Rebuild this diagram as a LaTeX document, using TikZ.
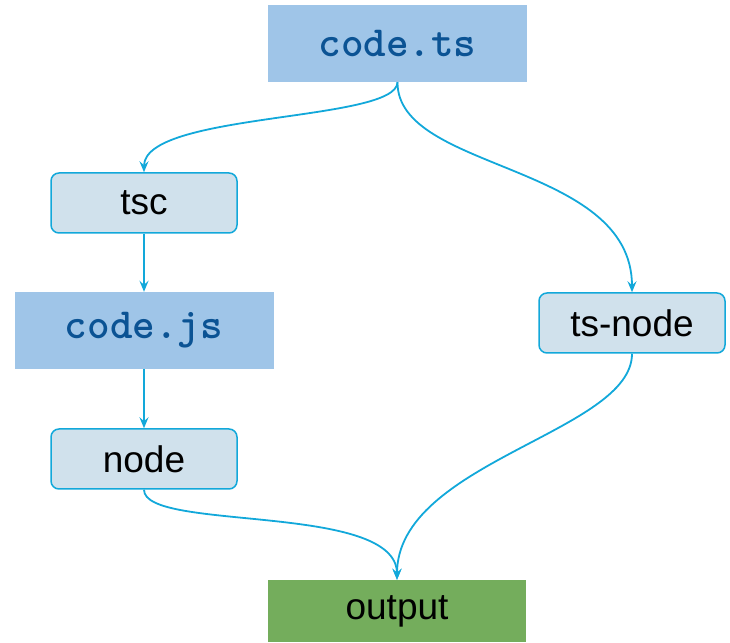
\documentclass[tikz,border=0pt]{standalone}
\usepackage{fontspec}
\setsansfont{Liberation Sans}
\usetikzlibrary{arrows.meta}
\definecolor{filebox}{HTML}{9FC5E8}
\definecolor{filetext}{HTML}{0B5394}
\definecolor{toolbox}{HTML}{D0E1EC}
\definecolor{toolline}{HTML}{12A8DA}
\definecolor{outbox}{HTML}{74AD5C}
\tikzset{
  file/.style={fill=filebox, minimum width=259pt, minimum height=77pt,
    font=\fontsize{43}{45}\selectfont\ttfamily\bfseries, text=filetext, inner sep=0pt},
  tool/.style={fill=toolbox, draw=toolline, line width=1.5pt, rounded corners=8pt,
    minimum width=186pt, minimum height=60pt, font=\fontsize{37}{40}\selectfont\sffamily, inner sep=0pt},
  result/.style={fill=outbox, minimum width=258pt, minimum height=62pt,
    font=\fontsize{37}{40}\selectfont\sffamily, inner sep=0pt},
  flow/.style={draw=toolline, line width=1.8pt, -{Stealth[length=11pt,width=9pt,inset=4pt]}},
}
\begin{document}
\begin{tikzpicture}[x=1pt,y=1pt]
\useasboundingbox (0,0) rectangle (730,642);
\node[file]   (ts)     at (397.5,598.5) {code.ts};
\node[tool]   (tsc)    at (144,439)     {tsc};
\node[file]   (js)     at (144,311.5)   {code.js};
\node[tool]   (node)   at (144,183)     {node};
\node[tool]   (tsnode) at (632,319)     {ts-node};
\node[result] (out)    at (397,31)      {output};

\draw[flow] (ts.south) .. controls (397,520) and (144,530) .. (tsc.north);
\draw[flow] (ts.south) .. controls (397,470) and (632,480) .. (tsnode.north);
\draw[flow] (tsc.south) -- (js.north);
\draw[flow] (js.south) -- (node.north);
\draw[flow] (node.south) .. controls (144,110) and (397,140) .. (out.north);
\draw[flow] (tsnode.south) .. controls (632,210) and (397,180) .. (out.north);
\end{tikzpicture}
\end{document}
